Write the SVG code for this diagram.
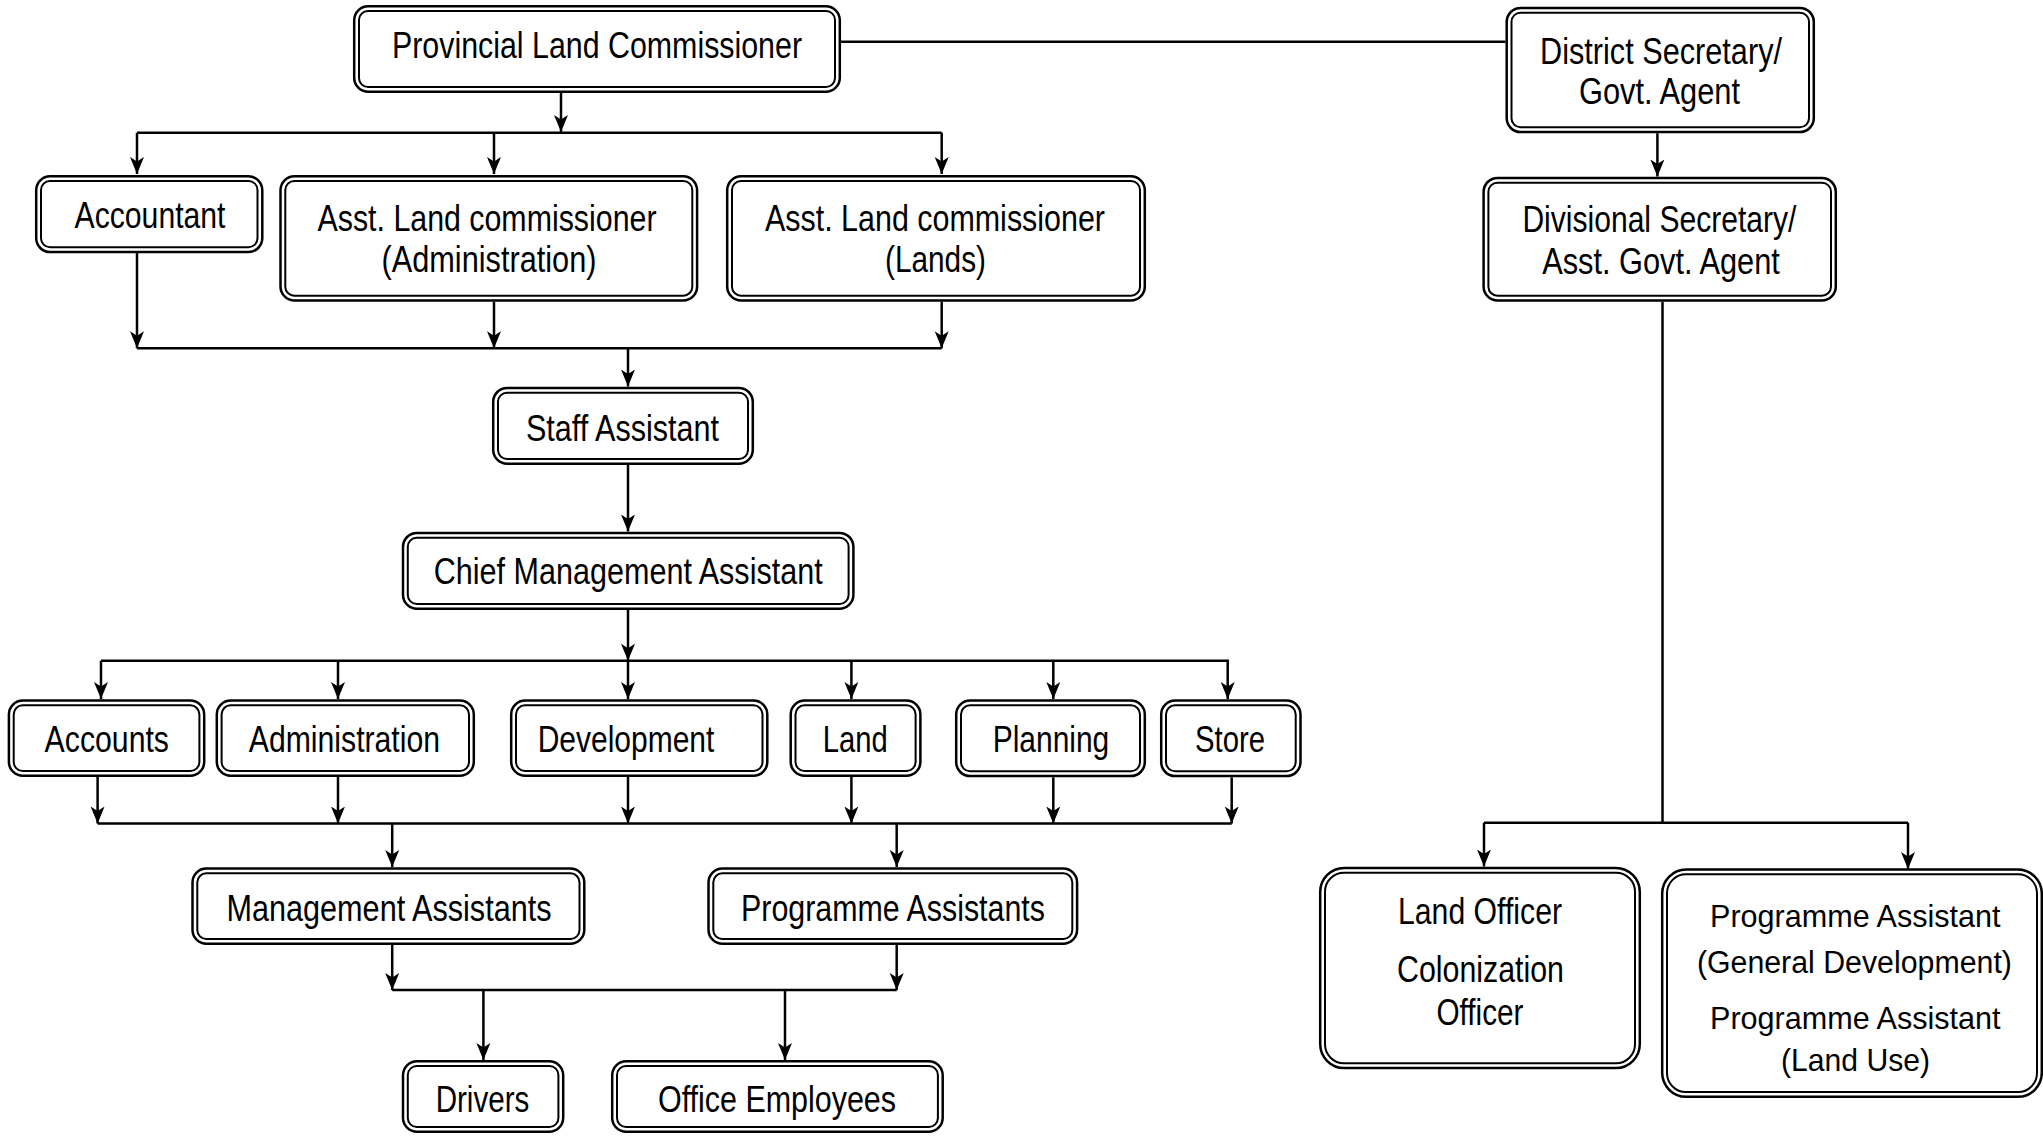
<svg xmlns="http://www.w3.org/2000/svg" width="2043" height="1136" viewBox="0 0 2043 1136">
<style>
.o{fill:#fff;stroke:#000;stroke-width:2.5}
.i{fill:none;stroke:#000;stroke-width:2}
.t{font-family:"Liberation Sans Narrow","Liberation Sans",Arial,sans-serif;font-size:36px;fill:#000;text-anchor:middle}
.s{font-size:32px}
.s2{font-size:31px}
.c{fill:none;stroke:#000;stroke-width:2.5}
</style>
<defs>
<marker id="ah" markerUnits="userSpaceOnUse" markerWidth="18" markerHeight="15" refX="17" refY="7" orient="auto" viewBox="0 0 18 14">
<path d="M0,0 L17,7 L0,14 L4.5,7 Z" fill="#000"/>
</marker>
</defs>
<rect width="2043" height="1136" fill="#fff"/>
<g id="connectors">
<path class="c" d="M841,41.7 H1505.5"/>
<path class="c" d="M561,93 V132" marker-end="url(#ah)"/>
<path class="c" d="M137,132.7 H941.7"/>
<path class="c" d="M137,132.7 V174" marker-end="url(#ah)"/>
<path class="c" d="M494,132.7 V174" marker-end="url(#ah)"/>
<path class="c" d="M941.7,132.7 V174" marker-end="url(#ah)"/>
<path class="c" d="M137,253 V348.3" marker-end="url(#ah)"/>
<path class="c" d="M494,301.7 V348.3" marker-end="url(#ah)"/>
<path class="c" d="M941.7,301.7 V348.3" marker-end="url(#ah)"/>
<path class="c" d="M137,348.3 H941.7"/>
<path class="c" d="M628,348.3 V386.5" marker-end="url(#ah)"/>
<path class="c" d="M628,465 V531.5" marker-end="url(#ah)"/>
<path class="c" d="M628,610 V660.7" marker-end="url(#ah)"/>
<path class="c" d="M101,660.7 H1225"/>
<path class="c" d="M101,660.7 V699" marker-end="url(#ah)"/>
<path class="c" d="M338,660.7 V699" marker-end="url(#ah)"/>
<path class="c" d="M628,660.7 V699" marker-end="url(#ah)"/>
<path class="c" d="M851.4,660.7 V699" marker-end="url(#ah)"/>
<path class="c" d="M1053.3,660.7 V699" marker-end="url(#ah)"/>
<path class="c" d="M1225,660.7 H1227.7 V699" marker-end="url(#ah)"/>
<path class="c" d="M97.6,777 V823.5" marker-end="url(#ah)"/>
<path class="c" d="M338,777 V823.5" marker-end="url(#ah)"/>
<path class="c" d="M628,777 V823.5" marker-end="url(#ah)"/>
<path class="c" d="M851.4,777 V823.5" marker-end="url(#ah)"/>
<path class="c" d="M1053.3,777.3 V823.5" marker-end="url(#ah)"/>
<path class="c" d="M1231.7,777.3 V823.5" marker-end="url(#ah)"/>
<path class="c" d="M97.6,823.5 H1231.7"/>
<path class="c" d="M392.2,823.5 V867" marker-end="url(#ah)"/>
<path class="c" d="M896.7,823.5 V867" marker-end="url(#ah)"/>
<path class="c" d="M392.2,945 V990" marker-end="url(#ah)"/>
<path class="c" d="M896.7,945 V990" marker-end="url(#ah)"/>
<path class="c" d="M392.2,990 H896.7"/>
<path class="c" d="M483.4,990 V1060" marker-end="url(#ah)"/>
<path class="c" d="M785,990 V1060" marker-end="url(#ah)"/>
<path class="c" d="M1657.4,133.3 V176.5" marker-end="url(#ah)"/>
<path class="c" d="M1662.5,301.7 V822.7"/>
<path class="c" d="M1484,822.7 H1908"/>
<path class="c" d="M1484,822.7 V866.5" marker-end="url(#ah)"/>
<path class="c" d="M1908,822.7 V869" marker-end="url(#ah)"/>
</g>
<g id="n1">
<rect class="o" x="354.2" y="6.2" width="485.6" height="85.6" rx="14"/>
<rect class="i" x="359" y="11" width="476" height="76" rx="9"/>
<text class="t" x="597" y="58" textLength="410" lengthAdjust="spacingAndGlyphs">Provincial Land Commissioner</text>
</g>
<g id="n2">
<rect class="o" x="1506.7" y="7.9" width="307.1" height="124.2" rx="14"/>
<rect class="i" x="1511.5" y="12.7" width="297.5" height="114.6" rx="9"/>
<text class="t" x="1661" y="63.5" textLength="242" lengthAdjust="spacingAndGlyphs">District Secretary/</text>
<text class="t" x="1659.5" y="104" textLength="161" lengthAdjust="spacingAndGlyphs">Govt. Agent</text>
</g>
<g id="n3">
<rect class="o" x="36.2" y="176.2" width="226.1" height="75.9" rx="14"/>
<rect class="i" x="41" y="181" width="216.5" height="66.3" rx="9"/>
<text class="t" x="150" y="228" textLength="151" lengthAdjust="spacingAndGlyphs">Accountant</text>
</g>
<g id="n4">
<rect class="o" x="280.5" y="176.2" width="416.6" height="124.3" rx="14"/>
<rect class="i" x="285.3" y="181" width="407" height="114.7" rx="9"/>
<text class="t" x="487" y="230.7" textLength="339" lengthAdjust="spacingAndGlyphs">Asst. Land commissioner</text>
<text class="t" x="489" y="272" textLength="215" lengthAdjust="spacingAndGlyphs">(Administration)</text>
</g>
<g id="n5">
<rect class="o" x="727.2" y="176.2" width="417.6" height="124.3" rx="14"/>
<rect class="i" x="732" y="181" width="408" height="114.7" rx="9"/>
<text class="t" x="935" y="230.7" textLength="340" lengthAdjust="spacingAndGlyphs">Asst. Land commissioner</text>
<text class="t" x="935.5" y="272" textLength="101" lengthAdjust="spacingAndGlyphs">(Lands)</text>
</g>
<g id="n6">
<rect class="o" x="1483.6" y="177.9" width="352.2" height="122.6" rx="14"/>
<rect class="i" x="1488.4" y="182.7" width="342.6" height="113" rx="9"/>
<text class="t" x="1659.4" y="231.7" textLength="274" lengthAdjust="spacingAndGlyphs">Divisional Secretary/</text>
<text class="t" x="1661" y="274" textLength="237.6" lengthAdjust="spacingAndGlyphs">Asst. Govt. Agent</text>
</g>
<g id="n7">
<rect class="o" x="493.2" y="387.9" width="259.6" height="75.9" rx="14"/>
<rect class="i" x="498" y="392.7" width="250" height="66.3" rx="9"/>
<text class="t" x="622.5" y="440.7" textLength="193" lengthAdjust="spacingAndGlyphs">Staff Assistant</text>
</g>
<g id="n8">
<rect class="o" x="403" y="532.9" width="450.4" height="75.9" rx="14"/>
<rect class="i" x="407.8" y="537.7" width="440.8" height="66.3" rx="9"/>
<text class="t" x="628.2" y="584" textLength="389" lengthAdjust="spacingAndGlyphs">Chief Management Assistant</text>
</g>
<g id="n9">
<rect class="o" x="8.9" y="700.5" width="195.3" height="75.3" rx="14"/>
<rect class="i" x="13.7" y="705.3" width="185.7" height="65.7" rx="9"/>
<text class="t" x="106.8" y="751.7" textLength="124.4" lengthAdjust="spacingAndGlyphs">Accounts</text>
</g>
<g id="n10">
<rect class="o" x="216.8" y="700.5" width="257" height="75.3" rx="14"/>
<rect class="i" x="221.6" y="705.3" width="247.4" height="65.7" rx="9"/>
<text class="t" x="344.4" y="751.7" textLength="191.3" lengthAdjust="spacingAndGlyphs">Administration</text>
</g>
<g id="n11">
<rect class="o" x="511.2" y="700.5" width="256.1" height="75.3" rx="14"/>
<rect class="i" x="516" y="705.3" width="246.5" height="65.7" rx="9"/>
<text class="t" x="626" y="751.7" textLength="176.7" lengthAdjust="spacingAndGlyphs">Development</text>
</g>
<g id="n12">
<rect class="o" x="790.7" y="700.5" width="129.7" height="75.3" rx="14"/>
<rect class="i" x="795.5" y="705.3" width="120.1" height="65.7" rx="9"/>
<text class="t" x="855.3" y="751.7" textLength="65" lengthAdjust="spacingAndGlyphs">Land</text>
</g>
<g id="n13">
<rect class="o" x="956.2" y="700.5" width="188.6" height="75.6" rx="14"/>
<rect class="i" x="961" y="705.3" width="179" height="66" rx="9"/>
<text class="t" x="1051" y="751.7" textLength="116.6" lengthAdjust="spacingAndGlyphs">Planning</text>
</g>
<g id="n14">
<rect class="o" x="1161.2" y="700.5" width="139.3" height="75.6" rx="14"/>
<rect class="i" x="1166" y="705.3" width="129.7" height="66" rx="9"/>
<text class="t" x="1230" y="751.7" textLength="70" lengthAdjust="spacingAndGlyphs">Store</text>
</g>
<g id="n15">
<rect class="o" x="192.5" y="868.5" width="391.8" height="75.3" rx="14"/>
<rect class="i" x="197.3" y="873.3" width="382.2" height="65.7" rx="9"/>
<text class="t" x="389" y="920.5" textLength="325" lengthAdjust="spacingAndGlyphs">Management Assistants</text>
</g>
<g id="n16">
<rect class="o" x="708.5" y="868.5" width="368.6" height="75.3" rx="14"/>
<rect class="i" x="713.3" y="873.3" width="359" height="65.7" rx="9"/>
<text class="t" x="893" y="920.5" textLength="304" lengthAdjust="spacingAndGlyphs">Programme Assistants</text>
</g>
<g id="n17">
<rect class="o" x="403" y="1061.2" width="160.2" height="70.6" rx="14"/>
<rect class="i" x="407.8" y="1066" width="150.6" height="61" rx="9"/>
<text class="t" x="482.5" y="1111.7" textLength="93.7" lengthAdjust="spacingAndGlyphs">Drivers</text>
</g>
<g id="n18">
<rect class="o" x="612.2" y="1061.2" width="330.5" height="70.6" rx="14"/>
<rect class="i" x="617" y="1066" width="320.9" height="61" rx="9"/>
<text class="t" x="777" y="1111.7" textLength="238" lengthAdjust="spacingAndGlyphs">Office Employees</text>
</g>
<g id="n19">
<rect class="o" x="1320.2" y="867.9" width="319.6" height="200.2" rx="24"/>
<rect class="i" x="1325" y="872.7" width="310" height="190.6" rx="19"/>
<text class="t" x="1480" y="924" textLength="164" lengthAdjust="spacingAndGlyphs">Land Officer</text>
<text class="t" x="1480.5" y="981.7" textLength="167" lengthAdjust="spacingAndGlyphs">Colonization</text>
<text class="t" x="1480" y="1025" textLength="87" lengthAdjust="spacingAndGlyphs">Officer</text>
</g>
<g id="n20">
<rect class="o" x="1662.2" y="869.5" width="379.6" height="227.3" rx="24"/>
<rect class="i" x="1667" y="874.3" width="370" height="217.7" rx="19"/>
<text class="t s" x="1855.3" y="927.3" textLength="290.5" lengthAdjust="spacingAndGlyphs">Programme Assistant</text>
<text class="t s2" x="1854.4" y="973.3" textLength="315" lengthAdjust="spacingAndGlyphs">(General Development)</text>
<text class="t s" x="1855.3" y="1029.3" textLength="290.5" lengthAdjust="spacingAndGlyphs">Programme Assistant</text>
<text class="t s" x="1855.5" y="1071" textLength="149" lengthAdjust="spacingAndGlyphs">(Land Use)</text>
</g>
</svg>
